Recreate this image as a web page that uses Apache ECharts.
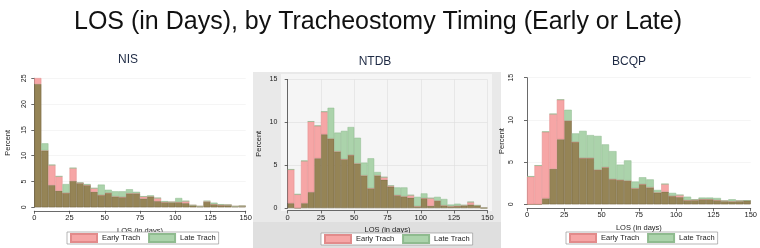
<!DOCTYPE html>
<html lang="en">
<head>
  <meta charset="UTF-8">
  <title>LOS by Tracheostomy Timing</title>
  <script src="https://cdn.jsdelivr.net/npm/echarts@6/dist/echarts.min.js"></script>
  <style>
    body { margin: 0; padding: 0; background: #fff; }
    #chart { width: 760px; height: 248px; }
  </style>
</head>
<body>
  <div id="chart"></div>
  <script>
    // 5-day bins, 0 to 150
    const bins = ['0-5', '5-10', '10-15', '15-20', '20-25', '25-30', '30-35', '35-40', '40-45', '45-50',
      '50-55', '55-60', '60-65', '65-70', '70-75', '75-80', '80-85', '85-90', '90-95', '95-100',
      '100-105', '105-110', '110-115', '115-120', '120-125', '125-130', '130-135', '135-140', '140-145', '145-150'];

    // percent of patients per bin
    const nisEarly = [25.1, 11.0, 8.2, 6.0, 2.8, 7.6, 4.7, 4.3, 3.7, 2.4, 2.8, 2.1, 2.0, 2.7, 2.7, 2.1, 2.1, 1.8, 1.0, 1.0, 1.0, 1.2, 0.4, 0.2, 1.2, 0.6, 0.45, 0.45, 0.2, 0.25];
    const nisLate = [23.9, 12.4, 4.3, 3.2, 4.5, 5.1, 4.8, 4.5, 3.0, 4.4, 3.4, 3.1, 3.1, 3.5, 3.0, 1.7, 2.3, 1.2, 1.2, 1.0, 1.8, 0.8, 0.4, 0.2, 1.05, 0.9, 0.6, 0.45, 0.2, 0.25];

    const ntdbEarly = [4.5, 1.6, 5.5, 10.1, 9.6, 11.25, 8.1, 6.6, 5.7, 6.2, 5.2, 3.8, 2.3, 3.8, 3.6, 2.6, 1.5, 1.35, 1.5, 0.2, 1.15, 1.15, 0.85, 0.3, 0.2, 0.25, 0.3, 0.7, 0.3, 0];
    const ntdbLate = [0.55, 0, 0.55, 1.85, 5.8, 8.6, 11.7, 8.8, 9.0, 9.45, 8.2, 5.3, 5.8, 4.2, 3.3, 2.5, 2.4, 2.4, 1.2, 1.3, 1.7, 0.25, 1.3, 1.05, 0.4, 0.5, 0.35, 0.4, 0.3, 0];

    const bcqpEarly = [3.3, 4.6, 8.6, 10.7, 12.4, 9.9, 7.4, 5.5, 5.5, 4.1, 4.4, 3.0, 2.9, 2.8, 1.9, 2.4, 2.0, 1.4, 2.4, 1.0, 1.1, 0.5, 0.55, 0.6, 0.6, 0.5, 0.4, 0.35, 0.4, 0.45];
    const bcqpLate = [0, 0, 0.7, 4.2, 7.7, 11.2, 8.4, 8.7, 8.2, 8.1, 7.1, 6.3, 4.7, 5.2, 2.7, 3.2, 2.95, 1.7, 1.5, 1.35, 0.85, 0.9, 0.5, 0.8, 0.8, 0.75, 0.4, 0.6, 0.4, 0.45];

    const losTicks = { min: 0, max: 150, interval: 25 };

    const FONT = 'Liberation Sans, Arial, sans-serif';
    const chart = echarts.init(document.getElementById('chart'));

    // overlap is drawn as its own brown part, the rest in red or green
    function histSeries(early, late, axis, key) {
      const common = early.map((v, i) => Math.min(v, late[i]));
      const redPart = early.map((v, i) => Math.max(v - late[i], 0));
      const greenPart = late.map((v, i) => Math.max(v - early[i], 0));
      const base = {
        type: 'bar', stack: key, xAxisIndex: axis * 2, yAxisIndex: axis,
        barWidth: '100%', barCategoryGap: '0%'
      };
      return [
        Object.assign({}, base, { name: 'Both', data: common,
          itemStyle: { color: '#958456', borderColor: '#72633d', borderWidth: 0.5 } }),
        Object.assign({}, base, { name: 'Early Trach', data: redPart,
          itemStyle: { color: '#f6a6a6', borderColor: '#e28b8b', borderWidth: 0.5 } }),
        Object.assign({}, base, { name: 'Late Trach', data: greenPart,
          itemStyle: { color: '#abd3ab', borderColor: '#8fbb8f', borderWidth: 0.5 } })
      ];
    }

    function catAxis(grid) {
      return { type: 'category', gridIndex: grid, data: bins, show: false, position: 'top', boundaryGap: true };
    }

    function losAxis(grid, offset, gridLines) {
      return {
        type: 'value', gridIndex: grid, position: 'bottom',
        min: losTicks.min, max: losTicks.max, interval: losTicks.interval,
        offset: offset,
        name: 'LOS (in days)', nameLocation: 'middle', nameGap: 11,
        nameTextStyle: { fontSize: 7.5, color: '#222', fontFamily: FONT },
        axisLine: { lineStyle: { color: '#444', width: 0.8 } },
        axisTick: { length: 3, lineStyle: { color: '#444', width: 0.8 } },
        axisLabel: { fontSize: 7.5, color: '#222', margin: 3, fontFamily: FONT },
        splitLine: { show: gridLines, lineStyle: { color: '#dedede', width: 0.6 } }
      };
    }

    function pctAxis(grid, max, offset, rotate, nameGap) {
      return {
        type: 'value', gridIndex: grid, min: 0, max: max, interval: 5, offset: offset,
        name: 'Percent', nameLocation: 'middle', nameGap: nameGap,
        nameTextStyle: { fontSize: 7.5, color: '#222', fontFamily: FONT },
        axisLine: { show: true, lineStyle: { color: '#444', width: 0.8 } },
        axisTick: { show: true, length: 3, lineStyle: { color: '#444', width: 0.8 } },
        axisLabel: { fontSize: 7, color: '#222', rotate: rotate, margin: rotate ? 6 : 4, fontFamily: FONT },
        splitLine: { show: true, lineStyle: { color: grid === 1 ? '#dedede' : '#eeeeee', width: 0.6 } }
      };
    }

    function legendAt(left, top) {
      return {
        left: left, top: top, data: ['Early Trach', 'Late Trach'],
        icon: 'rect', itemWidth: 26, itemHeight: 8, itemGap: 8,
        padding: [1, 3], borderColor: '#999', borderWidth: 0.7, backgroundColor: '#fff',
        selectedMode: false,
        textStyle: { fontSize: 7.5, color: '#222', fontFamily: FONT }
      };
    }

    function panelTitle(x, y, text) {
      return { type: 'text', x: x, y: y, z: 10,
        style: { text: text, fontSize: 12, fill: '#1e2a44', fontFamily: FONT, textAlign: 'center', textVerticalAlign: 'middle' } };
    }

    const option = {
      animation: false,
      graphic: [
        { type: 'rect', z: -10, shape: { x: 253, y: 72, width: 248, height: 176 }, style: { fill: '#e9e9e9' } },
        { type: 'rect', z: -9, shape: { x: 253, y: 222, width: 248, height: 26 }, style: { fill: '#dfdfdf' } },
        { type: 'rect', z: -9, shape: { x: 281, y: 74, width: 211, height: 137 }, style: { fill: '#f5f5f5' } },
        { type: 'text', x: 378, y: 22, z: 10,
          style: { text: 'LOS (in Days), by Tracheostomy Timing (Early or Late)', fontSize: 25, fill: '#111',
            fontFamily: FONT, textAlign: 'center', textVerticalAlign: 'middle' } },
        panelTitle(128, 60, 'NIS'),
        panelTitle(375, 62, 'NTDB'),
        panelTitle(629, 62, 'BCQP')
      ],
      legend: [legendAt(67, 232), legendAt(321, 233), legendAt(566, 232)],
      grid: [
        { left: 34.3, top: 78.3, width: 211.4, height: 129 },
        { left: 287.7, top: 79.5, width: 199.6, height: 128.5 },
        { left: 527, top: 77.7, width: 226.3, height: 126.6 }
      ],
      xAxis: [
        catAxis(0), losAxis(0, 3.5, false),
        catAxis(1), losAxis(1, 2.5, true),
        catAxis(2), losAxis(2, 4, false)
      ],
      yAxis: [
        pctAxis(0, 25, 1, 90, 21),
        pctAxis(1, 15, 6.4, 0, 18),
        pctAxis(2, 15, 6.5, 90, 15)
      ],
      series: [].concat(
        histSeries(nisEarly, nisLate, 0, 'nis'),
        histSeries(ntdbEarly, ntdbLate, 1, 'ntdb'),
        histSeries(bcqpEarly, bcqpLate, 2, 'bcqp')
      )
    };

    chart.setOption(option);
  </script>
</body>
</html>
